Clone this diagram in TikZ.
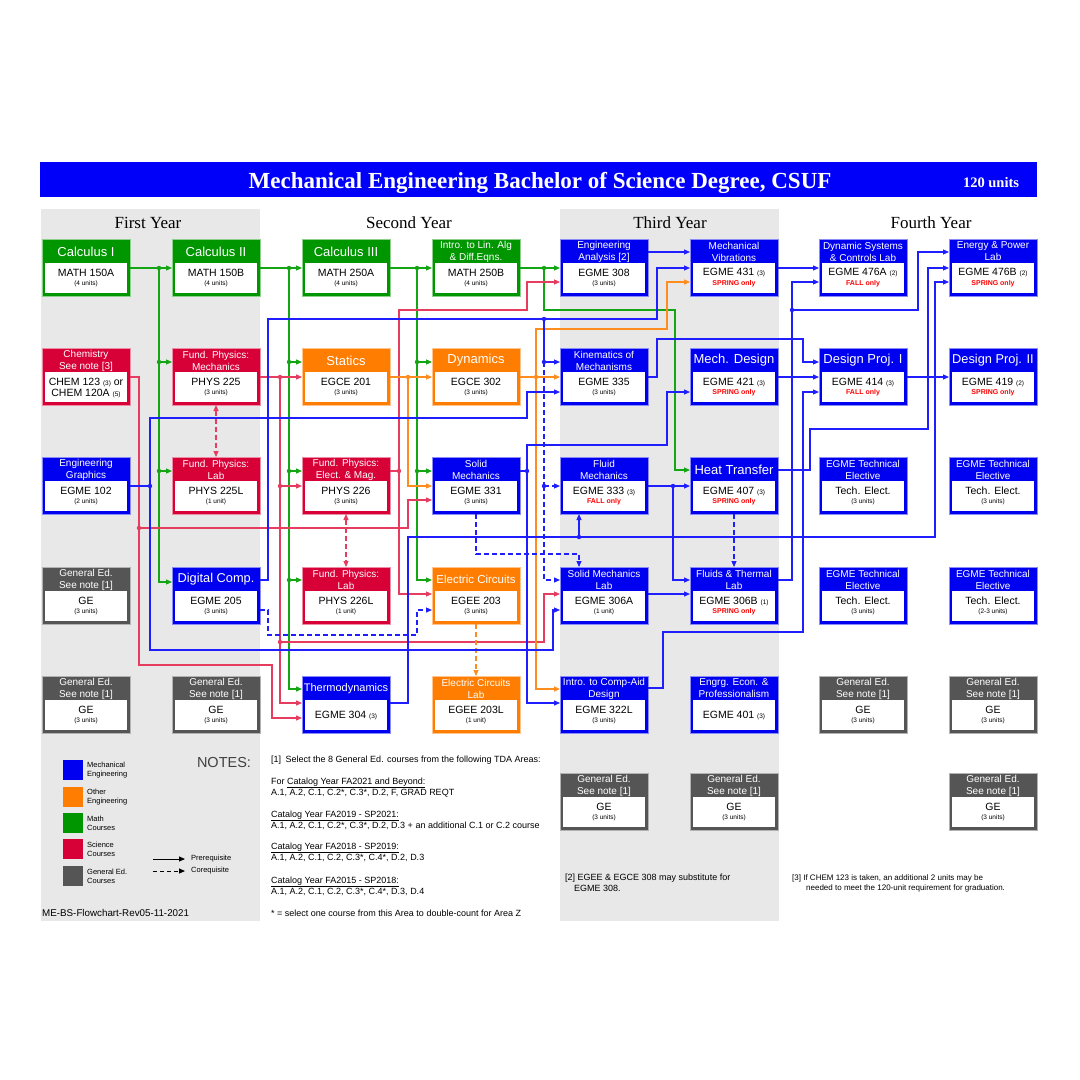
\documentclass[tikz,border=0pt]{standalone}
\usepackage{fontspec}
\setmainfont{Liberation Sans}
\newfontfamily\seriffam{Liberation Serif}
\usetikzlibrary{arrows.meta}
\definecolor{cblue}{RGB}{0,0,240}
\definecolor{cgreen}{RGB}{0,150,0}
\definecolor{cred}{RGB}{215,0,55}
\definecolor{corange}{RGB}{255,125,0}
\definecolor{cgray}{RGB}{85,85,85}
\definecolor{bggray}{RGB}{232,232,232}
\definecolor{lblue}{RGB}{30,30,255}
\definecolor{lgreen}{RGB}{20,165,20}
\definecolor{lred}{RGB}{230,60,95}
\definecolor{lorange}{RGB}{255,140,30}
\definecolor{sprred}{RGB}{255,0,0}
\definecolor{tblue}{RGB}{0,0,250}
\newcommand\fHd{\fontsize{13}{13}\selectfont}
\newcommand\fhd{\fontsize{10}{10.8}\selectfont}
\newcommand\fbd{\fontsize{10.5}{11}\selectfont}
\newcommand\fud{\fontsize{6.5}{7}\selectfont}
\newcommand\fsd{\fontsize{7}{7}\selectfont\bfseries\color{sprred}}
\newcommand\crs[7]{%
  \node[cbox,fill=#4,draw=#4!45] (#1) at ({#2+44},{#3+28.5}) {};
  \fill[white] ({#2+3},{#3+24}) rectangle ({#2+85},{#3+54});
  \node[htx] at ({#2+44},{#3+12.5}) {#5};
  \node[btx] at ({#2+44},{#3+34}) {\fbd #6};
  \node[btx] at ({#2+44},{#3+45}) {#7};
}
\newcommand\crss[6]{%
  \node[cbox,fill=#4,draw=#4!45] (#1) at ({#2+44},{#3+28.5}) {};
  \fill[white] ({#2+3},{#3+24}) rectangle ({#2+85},{#3+54});
  \node[htx] at ({#2+44},{#3+12.5}) {#5};
  \node[btx] at ({#2+44},{#3+39}) {\fbd #6};
}
\tikzset{
  cbox/.style={rectangle,minimum width=88pt,minimum height=57pt,inner sep=0pt,outer sep=0pt,line width=0.8pt},
  htx/.style={text=white,align=center,inner sep=0pt},
  btx/.style={text=black,align=center,inner sep=0pt},
  ln/.style={line width=1.1pt},
  bl/.style={ln,draw=lblue},
  gl/.style={ln,draw=lgreen},
  rl/.style={ln,draw=lred},
  ol/.style={ln,draw=lorange},
  ar/.style={-{Triangle[length=6pt,width=5pt]}},
  dar/.style={{Triangle[length=6pt,width=5pt]}-{Triangle[length=6pt,width=5pt]}},
  dsh/.style={dash pattern=on 5pt off 3pt},
  ntx/.style={anchor=west,inner sep=0pt,font=\fontsize{9}{10}\selectfont},
  ntb/.style={anchor=west,inner sep=0pt,font=\fontsize{8}{9}\selectfont},
  lgx/.style={anchor=west,inner sep=0pt,align=left,font=\fontsize{7.5}{9}\selectfont},
}
\begin{document}
\begin{tikzpicture}[x=1pt,y=-1pt]
\useasboundingbox (0,0) rectangle (1080,1080);
\fill[white] (0,0) rectangle (1080,1080);
% backgrounds
\fill[bggray] (41,209) rectangle (260,921);
\fill[bggray] (560,209) rectangle (779,921);
\fill[tblue] (40,162) rectangle (1037,197);
\node[text=white,inner sep=0pt,anchor=base,font=\seriffam\bfseries\fontsize{23}{23}\selectfont] (title) at (540,188) {Mechanical Engineering Bachelor of Science Degree, CSUF};
\node[text=white,inner sep=0pt,anchor=base,font=\seriffam\bfseries\fontsize{14.5}{14.5}\selectfont] (units) at (991,187) {120 units};
\node[inner sep=0pt,anchor=base,font=\seriffam\fontsize{17}{17}\selectfont] (y1) at (148,228) {First Year};
\node[inner sep=0pt,anchor=base,font=\seriffam\fontsize{17}{17}\selectfont] (y2) at (409,228) {Second Year};
\node[inner sep=0pt,anchor=base,font=\seriffam\fontsize{17}{17}\selectfont] (y3) at (670,228) {Third Year};
\node[inner sep=0pt,anchor=base,font=\seriffam\fontsize{17}{17}\selectfont] (y4) at (931,228) {Fourth Year};
% row 1
\crs{m150a}{42}{239}{cgreen}{\fHd Calculus I}{MATH 150A}{\fud(4 units)}
\crs{m150b}{172}{239}{cgreen}{\fHd Calculus II}{MATH 150B}{\fud(4 units)}
\crs{m250a}{302}{239}{cgreen}{\fHd Calculus III}{MATH 250A}{\fud(4 units)}
\crs{m250b}{432}{239}{cgreen}{\fhd Intro. to Lin. Alg\\\& Diff.Eqns.}{MATH 250B}{\fud(4 units)}
\crs{e308}{560}{239}{cblue}{\fhd Engineering\\Analysis [2]}{EGME 308}{\fud(3 units)}
\crs{e431}{690}{239}{cblue}{\fhd Mechanical\\Vibrations}{EGME 431 {\fud(3)}}{\fsd SPRING only}
\crs{e476a}{819}{239}{cblue}{\fhd Dynamic Systems\\\& Controls Lab}{EGME 476A {\fud(2)}}{\fsd FALL only}
\crs{e476b}{949}{239}{cblue}{\fhd Energy \& Power\\Lab}{EGME 476B {\fud(2)}}{\fsd SPRING only}
% row 2
\crs{chem}{42}{348}{cred}{\fhd Chemistry\\See note [3]}{CHEM 123 {\fud(3)} or}{\fbd CHEM 120A {\fud(5)}}
\crs{p225}{172}{348}{cred}{\fhd Fund. Physics:\\Mechanics}{PHYS 225}{\fud(3 units)}
\crs{c201}{302}{348}{corange}{\fHd Statics}{EGCE 201}{\fud(3 units)}
\crs{c302}{432}{348}{corange}{\fHd Dynamics}{EGCE 302}{\fud(3 units)}
\crs{e335}{560}{348}{cblue}{\fhd Kinematics of\\Mechanisms}{EGME 335}{\fud(3 units)}
\crs{e421}{690}{348}{cblue}{\fHd Mech. Design}{EGME 421 {\fud(3)}}{\fsd SPRING only}
\crs{e414}{819}{348}{cblue}{\fHd Design Proj. I}{EGME 414 {\fud(3)}}{\fsd FALL only}
\crs{e419}{949}{348}{cblue}{\fontsize{12.8}{13}\selectfont Design Proj. II}{EGME 419 {\fud(2)}}{\fsd SPRING only}
% row 3
\crs{e102}{42}{457}{cblue}{\fhd Engineering\\Graphics}{EGME 102}{\fud(2 units)}
\crs{p225l}{172}{457}{cred}{\fhd Fund. Physics:\\Lab}{PHYS 225L}{\fud(1 unit)}
\crs{p226}{302}{457}{cred}{\fhd Fund. Physics:\\Elect. \& Mag.}{PHYS 226}{\fud(3 units)}
\crs{e331}{432}{457}{cblue}{\fhd Solid\\Mechanics}{EGME 331}{\fud(3 units)}
\crs{e333}{560}{457}{cblue}{\fhd Fluid\\Mechanics}{EGME 333 {\fud(3)}}{\fsd FALL only}
\crs{e407}{690}{457}{cblue}{\fHd Heat Transfer}{EGME 407 {\fud(3)}}{\fsd SPRING only}
\crs{te1}{819}{457}{cblue}{\fhd EGME Technical\\Elective}{Tech. Elect.}{\fud(3 units)}
\crs{te2}{949}{457}{cblue}{\fhd EGME Technical\\Elective}{Tech. Elect.}{\fud(3 units)}
% row 4
\crs{ge1}{42}{567}{cgray}{\fhd General Ed.\\See note [1]}{GE}{\fud(3 units)}
\crs{e205}{172}{567}{cblue}{\fontsize{12.8}{13}\selectfont Digital Comp.}{EGME 205}{\fud(3 units)}
\crs{p226l}{302}{567}{cred}{\fhd Fund. Physics:\\Lab}{PHYS 226L}{\fud(1 unit)}
\crs{ee203}{432}{567}{corange}{\fontsize{11.5}{12}\selectfont Electric Circuits}{EGEE 203}{\fud(3 units)}
\crs{e306a}{560}{567}{cblue}{\fhd Solid Mechanics\\Lab}{EGME 306A}{\fud(1 unit)}
\crs{e306b}{690}{567}{cblue}{\fhd Fluids \& Thermal\\Lab}{EGME 306B {\fud(1)}}{\fsd SPRING only}
\crs{te3}{819}{567}{cblue}{\fhd EGME Technical\\Elective}{Tech. Elect.}{\fud(3 units)}
\crs{te4}{949}{567}{cblue}{\fhd EGME Technical\\Elective}{Tech. Elect.}{\fud(2-3 units)}
% row 5
\crs{ge2}{42}{676}{cgray}{\fhd General Ed.\\See note [1]}{GE}{\fud(3 units)}
\crs{ge3}{172}{676}{cgray}{\fhd General Ed.\\See note [1]}{GE}{\fud(3 units)}
\crss{e304}{302}{676}{cblue}{\fontsize{11}{11}\selectfont Thermodynamics}{EGME 304 {\fud(3)}}
\crs{ee203l}{432}{676}{corange}{\fhd Electric Circuits\\Lab}{EGEE 203L}{\fud(1 unit)}
\crs{e322l}{560}{676}{cblue}{\fhd Intro. to Comp-Aid\\Design}{EGME 322L}{\fud(3 units)}
\crss{e401}{690}{676}{cblue}{\fhd Engrg. Econ. \&\\Professionalism}{EGME 401 {\fud(3)}}
\crs{ge4}{819}{676}{cgray}{\fhd General Ed.\\See note [1]}{GE}{\fud(3 units)}
\crs{ge5}{949}{676}{cgray}{\fhd General Ed.\\See note [1]}{GE}{\fud(3 units)}
% row 6
\crs{ge6}{560}{773}{cgray}{\fhd General Ed.\\See note [1]}{GE}{\fud(3 units)}
\crs{ge7}{690}{773}{cgray}{\fhd General Ed.\\See note [1]}{GE}{\fud(3 units)}
\crs{ge8}{949}{773}{cgray}{\fhd General Ed.\\See note [1]}{GE}{\fud(3 units)}
% ---------- green connectors
\coordinate (gA) at (159,268);
\draw[gl,ar] (m150a.east|-0,268) -- (m150b.west|-0,268);
\draw[gl,ar] (gA) |- (p225.west|-0,362);
\draw[gl,ar] (gA) |- (p225l.west|-0,471);
\draw[gl,ar] (gA) |- (e205.west|-0,582);
\coordinate (gB) at (289,268);
\draw[gl,ar] (m150b.east|-0,268) -- (m250a.west|-0,268);
\draw[gl,ar] (gB) |- (c201.west|-0,362);
\draw[gl,ar] (gB) |- (p226.west|-0,471);
\draw[gl,ar] (gB) |- (p226l.west|-0,580);
\draw[gl,ar] (gB) |- (e304.west|-0,689);
\coordinate (gC) at (417,268);
\draw[gl,ar] (m250a.east|-0,268) -- (m250b.west|-0,268);
\draw[gl,ar] (gC) |- (c302.west|-0,362);
\draw[gl,ar] (gC) |- (e331.west|-0,471);
\draw[gl,ar] (gC) |- (ee203.west|-0,580);
\coordinate (gD) at (544,268);
\draw[gl,ar] (m250b.east|-0,268) -- (e308.west|-0,268);
\draw[gl,ar] (gD) -- (544,310) -- (675,310) |- (e407.west|-0,470);
\foreach \p in {(159,268),(159,362),(159,471),(289,268),(289,362),(289,471),(289,580),(417,268),(417,362),(417,471),(544,268)}
  \fill[lgreen] \p circle (2.2pt);
% ---------- red connectors
\draw[rl,ar] (chem.east|-0,377) -- (139,377) -- (139,665) -- (272,665) |- (e304.west|-0,718);
\coordinate (rA) at (139,528);
\draw[rl,ar] (rA) -- (408,528) |- (e331.west|-0,500);
\draw[rl,ar] (p225.east|-0,377) -- (c201.west|-0,377);
\coordinate (rB) at (280,377);
\draw[rl,ar] (rB) |- (p226.west|-0,486);
\draw[rl,ar] (rB) |- (e304.west|-0,703);
\coordinate (rC) at (280,642);
\draw[rl,ar] (rC) -- (544,642) |- (e306a.west|-0,594);
\coordinate (rD) at (399,471);
\draw[rl,ar] (p226.east|-0,471) -- (rD) |- (ee203.west|-0,594);
\draw[rl,ar] (rD) -- (399,310) -- (527,310) |- (e308.west|-0,282);
\draw[rl,dsh,dar] (p225.south) -- (p225l.north);
\draw[rl,dsh,dar] (p226.south) -- (p226l.north);
\foreach \p in {(139,528),(280,377),(280,486),(280,642),(399,471)}
  \fill[lred] \p circle (2.2pt);
% ---------- orange connectors
\draw[ol,ar] (c201.east|-0,377) -- (c302.west|-0,377);
\coordinate (oA) at (408,377);
\draw[ol,ar] (oA) |- (e331.west|-0,486);
\draw[ol,ar] (c302.east|-0,377) -- (e335.west|-0,377);
\coordinate (oB) at (536,377);
\draw[ol,ar] (oB) -- (536,329) -- (667,329) |- (e431.west|-0,282);
\draw[ol,ar] (oB) |- (e322l.west|-0,689);
\draw[ol,dsh,ar] (ee203.south) -- (ee203l.north);
\foreach \p in {(408,377),(536,377)}
  \fill[lorange] \p circle (2.2pt);
% ---------- blue connectors
\coordinate (bA) at (150,486);
\draw[bl] (e102.east|-0,486) -- (bA);
\draw[bl,ar] (bA) -- (150,418) -- (527,418) |- (e335.west|-0,392);
\draw[bl,ar] (bA) -- (150,650) -- (553,650) |- (e306a.west|-0,610);
\coordinate (bB) at (544,319);
\coordinate (bC) at (544,362);
\coordinate (bD) at (544,486);
\draw[bl] (e205.east|-0,580) -- (268,580) -- (268,319) -- (bB);
\draw[bl,ar] (bB) -- (657,319) |- (e431.west|-0,268);
\draw[bl] (bB) -- (bC);
\draw[bl,ar] (bC) -- (e335.west|-0,362);
\draw[bl,dsh] (bC) -- (bD);
\draw[bl,dsh,ar] (bD) -- (e333.west|-0,486);
\draw[bl,dsh,ar] (bD) |- (e306a.west|-0,580);
\draw[bl,dsh,ar] (e205.east|-0,610) -- (268,610) -- (268,635) -- (417,635) |- (ee203.west|-0,610);
\coordinate (bE) at (527,471);
\draw[bl] (e331.east|-0,471) -- (bE);
\draw[bl,ar] (bE) -- (527,445) -- (667,445) |- (e421.west|-0,392);
\draw[bl,ar] (bE) |- (e322l.west|-0,703);
\draw[bl,dsh,ar] (e331.south) -- (476,554) -- (579,554) -- (e306a.north-|579,0);
\coordinate (bF) at (579,537);
\draw[bl] (e304.east|-0,703) -- (408,703) -- (408,537) -- (bF);
\draw[bl,ar] (bF) -- (e333.south-|579,0);
\draw[bl,ar] (bF) -- (935,537) |- (e476b.west|-0,282);
\coordinate (bG) at (673,486);
\draw[bl,ar] (e333.east|-0,486) -- (e407.west|-0,486);
\draw[bl,ar] (bG) |- (e306b.west|-0,580);
\draw[bl,dsh,ar] (e407.south) -- (e306b.north);
\draw[bl,ar] (e306a.east|-0,594) -- (e306b.west|-0,594);
\draw[bl,ar] (e322l.east|-0,688) -- (663,688) -- (663,632) -- (803,632) |- (e414.west|-0,392);
\draw[bl,ar] (e335.east|-0,377) -- (657,377) -- (657,339) -- (803,339) |- (e414.west|-0,362);
\draw[bl,ar] (e308.east|-0,252) -- (e431.west|-0,252);
\draw[bl,ar] (e431.east|-0,268) -- (e476a.west|-0,268);
\draw[bl,ar] (e421.east|-0,377) -- (e414.west|-0,377);
\draw[bl,ar] (e414.east|-0,377) -- (e419.west|-0,377);
\coordinate (bH) at (792,310);
\draw[bl,ar] (e306b.east|-0,580) -- (792,580) |- (e476a.west|-0,282);
\draw[bl,ar] (bH) -- (918,310) |- (e476b.west|-0,252);
\draw[bl,ar] (e407.east|-0,470) -- (810,470) -- (810,429) -- (928,429) |- (e476b.west|-0,268);
\foreach \p in {(150,486),(544,319),(544,362),(544,486),(527,471),(579,537),(673,486),(792,310)}
  \fill[lblue] \p circle (2.2pt);
% ---------- legend
\fill[cblue] (63,760) rectangle (83,780);
\fill[corange] (63,787) rectangle (83,807);
\fill[cgreen] (63,813) rectangle (83,833);
\fill[cred] (63,839) rectangle (83,859);
\fill[cgray] (63,866) rectangle (83,886);
\node[lgx] (lg1) at (87,770) {Mechanical\\Engineering};
\node[lgx] (lg2) at (87,797) {Other\\Engineering};
\node[lgx] (lg3) at (87,823) {Math\\Courses};
\node[lgx] (lg4) at (87,849) {Science\\Courses};
\node[lgx] (lg5) at (87,876) {General Ed.\\Courses};
\node[lgx] (lgp) at (191,859) {Prerequisite};
\node[lgx] (lgc) at (191,871) {Corequisite};
\draw[line width=1pt,-{Triangle[length=6pt,width=5pt]}] (153,859) -- ([xshift=-6pt]lgp.west);
\draw[line width=1pt,dash pattern=on 4pt off 3pt,-{Triangle[length=6pt,width=5pt]}] (153,871) -- ([xshift=-6pt]lgc.west);
\node[inner sep=0pt,font=\fontsize{14.5}{14.5}\selectfont,text=black!75] (notes) at (224,762) {NOTES:};
\node[anchor=west,inner sep=0pt,font=\fontsize{9.8}{10}\selectfont] (rev) at (42,913) {ME-BS-Flowchart-Rev05-11-2021};
% ---------- notes text
\node[ntx] (n1) at (271,760) {[1]\enspace Select the 8 General Ed. courses from the following TDA Areas:};
\node[ntx] (n2) at (271,783) {For \underline{Catalog Year FA2021 and Beyond:}};
\node[ntx] (n3) at (271,793) {A.1, A.2, C.1, C.2*, C.3*, D.2, F, GRAD REQT};
\node[ntx] (n4) at (271,816) {\underline{Catalog Year FA2019 - SP2021:}};
\node[ntx] (n5) at (271,826) {A.1, A.2, C.1, C.2*, C.3*, D.2, D.3 + an additional C.1 or C.2 course};
\node[ntx] (n6) at (271,848) {\underline{Catalog Year FA2018 - SP2019:}};
\node[ntx] (n7) at (271,858) {A.1, A.2, C.1, C.2, C.3*, C.4*, D.2, D.3};
\node[ntx] (n8) at (271,882) {\underline{Catalog Year FA2015 - SP2018:}};
\node[ntx] (n9) at (271,892) {A.1, A.2, C.1, C.2, C.3*, C.4*, D.3, D.4};
\node[ntx] (n10) at (271,913) {* = select one course from this Area to double-count for Area Z};
\node[ntx] (n11) at (565,878) {[2] EGEE \& EGCE 308 may substitute for};
\node[ntx] (n12) at (574,888) {EGME 308.};
\node[ntb] (n13) at (792,878) {[3] If CHEM 123 is taken, an additional 2 units may be};
\node[ntb] (n14) at (806,888) {needed to meet the 120-unit requirement for graduation.};
\end{tikzpicture}
\end{document}
